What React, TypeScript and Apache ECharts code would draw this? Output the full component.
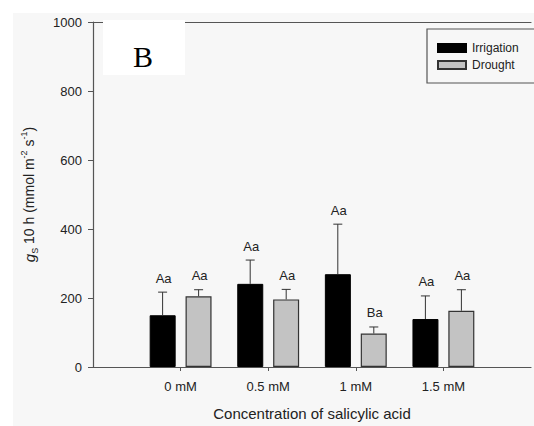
import React, { useEffect, useRef } from "react";
import * as echarts from "echarts";

const categories = ["0 mM", "0.5 mM", "1 mM", "1.5 mM"];
const irrigation = [150, 241, 269, 139];
const irrigationSE = [67, 69, 145, 67];
const drought = [205, 196, 97, 163];
const droughtSE = [19, 29, 19, 61];
const irrigationLetters = ["Aa", "Aa", "Aa", "Aa"];
const droughtLetters = ["Aa", "Aa", "Ba", "Aa"];
const yTicks = [0, 200, 400, 600, 800, 1000];

const FONT = "Liberation Sans, Arial, sans-serif";
const AXIS = "#555555";
const TEXT = "#222222";

export default function App() {
  const ref = useRef<HTMLDivElement>(null);
  useEffect(() => {
    if (!ref.current) return;
    const chart = echarts.init(ref.current, undefined, { renderer: "svg" });
    const cats = ["", ...categories, ""];
    const pad = (arr: number[]) => ["-", ...arr, "-"];
    const errData: any[] = [];
    categories.forEach((c, i) => {
      errData.push([i + 1, irrigation[i], irrigation[i] + irrigationSE[i], -1, irrigationLetters[i]]);
      errData.push([i + 1, drought[i], drought[i] + droughtSE[i], 1, droughtLetters[i]]);
    });
    const option: any = {
      animation: false,
      backgroundColor: "#ffffff",
      textStyle: { fontFamily: FONT },
      grid: { left: 93, right: -11, top: 22, bottom: 59 },
      legend: {
        orient: "vertical",
        left: 437,
        top: 42,
        icon: "rect",
        itemWidth: 28,
        itemHeight: 8,
        itemGap: 5,
        padding: 0,
        data: ["Irrigation", "Drought"],
        textStyle: { fontFamily: FONT, fontSize: 12, color: TEXT, padding: [0, 0, 0, 1] },
      },
      xAxis: [
        {
          type: "category",
          data: cats,
          boundaryGap: false,
          axisLine: { lineStyle: { color: AXIS, width: 1.2 } },
          axisTick: {
            show: true,
            length: 4,
            interval: (idx: number) => idx >= 1 && idx <= categories.length,
            lineStyle: { color: AXIS },
          },
          axisLabel: {
            interval: 0,
            margin: 13,
            fontFamily: FONT,
            fontSize: 13,
            color: TEXT,
          },
          name: "Concentration of salicylic acid",
          nameLocation: "middle",
          nameGap: 39,
          nameTextStyle: { fontFamily: FONT, fontSize: 15, color: TEXT },
        },
        {
          type: "category",
          data: cats,
          boundaryGap: false,
          position: "top",
          axisLine: { lineStyle: { color: AXIS, width: 1.2 } },
          axisTick: { show: false },
          axisLabel: { show: false },
        },
      ],
      yAxis: {
        type: "value",
        min: yTicks[0],
        max: yTicks[yTicks.length - 1],
        interval: 200,
        splitLine: { show: false },
        axisLine: { show: true, lineStyle: { color: AXIS, width: 1.2 } },
        axisTick: { show: true, length: 5, lineStyle: { color: AXIS } },
        axisLabel: {
          margin: 11,
          fontFamily: FONT,
          fontSize: 13,
          color: TEXT,
          formatter: (v: number) => String(v),
        },
        name: "{g|g}{sub|S} 10 h (mmol m{sup|-2} s{sup|-1})",
        nameLocation: "middle",
        nameRotate: 90,
        nameGap: 54,
        nameTextStyle: {
          fontFamily: FONT,
          fontSize: 14,
          color: TEXT,
          rich: {
            g: { fontFamily: FONT, fontSize: 15, fontStyle: "italic", color: TEXT, lineHeight: 20 },
            sub: { fontFamily: FONT, fontSize: 9, color: TEXT, verticalAlign: "bottom", lineHeight: 20 },
            sup: { fontFamily: FONT, fontSize: 9, color: TEXT, verticalAlign: "top", lineHeight: 20 },
          },
        },
      },
      series: [
        {
          name: "Irrigation",
          type: "bar",
          data: pad(irrigation),
          barWidth: 26,
          barGap: "38%",
          itemStyle: { color: "#000000", borderColor: "#000000", borderWidth: 1 },
        },
        {
          name: "Drought",
          type: "bar",
          data: pad(drought),
          barWidth: 26,
          barGap: "38%",
          itemStyle: { color: "#c3c3c3", borderColor: "#333333", borderWidth: 1.2 },
        },
        {
          name: "errors",
          type: "custom",
          data: errData,
          encode: { x: 0, y: [1, 2] },
          z: 5,
          renderItem: (params: any, api: any) => {
            const p0 = api.coord([api.value(0), api.value(1)]);
            const p1 = api.coord([api.value(0), api.value(2)]);
            const side = api.value(3);
            const x = p0[0] + side * 18;
            const style = { stroke: "#333333", lineWidth: 1 };
            return {
              type: "group",
              children: [
                { type: "line", shape: { x1: x, y1: p0[1], x2: x, y2: p1[1] }, style },
                { type: "line", shape: { x1: x - 4.5, y1: p1[1], x2: x + 4.5, y2: p1[1] }, style },
                {
                  type: "text",
                  x: x + 1,
                  y: p1[1] - 14,
                  style: {
                    text: String(api.value(4)),
                    fill: TEXT,
                    fontFamily: FONT,
                    fontSize: 13,
                    align: "center",
                    verticalAlign: "middle",
                  },
                },
              ],
            };
          },
        },
      ],
      graphic: [
        {
          type: "rect",
          z: -10,
          silent: true,
          shape: { x: 13, y: 13, width: 540, height: 430 },
          style: { fill: "#f7f7f7" },
        },
        {
          type: "rect",
          z: 10,
          silent: true,
          shape: { x: 427, y: 29, width: 130, height: 54 },
          style: { fill: "none", stroke: AXIS, lineWidth: 1.2 },
        },
        {
          type: "rect",
          z: 20,
          silent: true,
          shape: { x: 103, y: 20, width: 82, height: 55 },
          style: { fill: "#ffffff" },
        },
        {
          type: "text",
          z: 21,
          silent: true,
          x: 143,
          y: 56,
          style: {
            text: "B",
            fontFamily: "Liberation Serif, Times New Roman, serif",
            fontSize: 30,
            fill: "#000000",
            align: "center",
            verticalAlign: "middle",
          },
        },
      ],
    };
    chart.setOption(option);
    return () => chart.dispose();
  }, []);
  return (
    <div
      ref={ref}
      style={{ position: "fixed", left: 0, top: 0, width: 534, height: 426 }}
    />
  );
}
